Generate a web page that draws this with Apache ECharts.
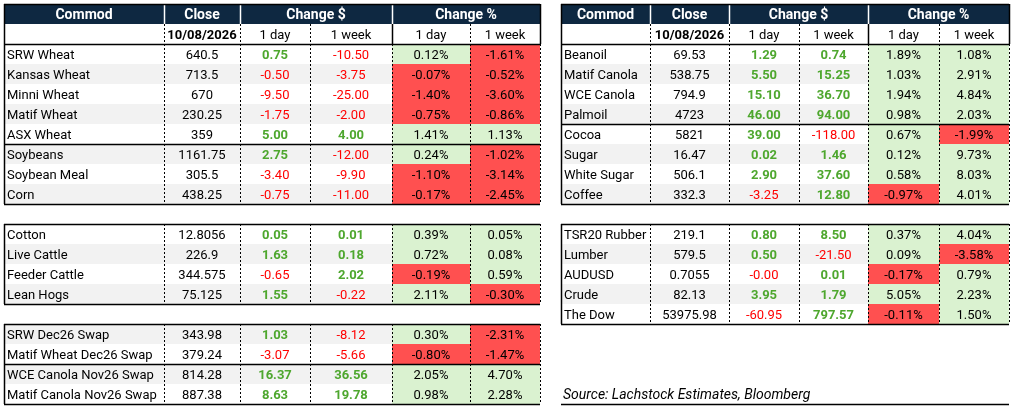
<!DOCTYPE html>
<html>
<head>
<meta charset="utf-8">
<script src="https://cdn.jsdelivr.net/npm/echarts@6/dist/echarts.min.js"></script>
<style>
  html, body { margin: 0; padding: 0; background: #fff; }
  #main { width: 1012px; height: 412px; }
</style>
</head>
<body>
<div id="main"></div>
<script>
// ---------------- data ----------------
const headTop = ['Commod', 'Close', 'Change $', 'Change %'];
const headSub = ['', '10/08/2026', '1 day', '1 week', '1 day', '1 week'];
const sourceText = 'Source: Lachstock Estimates, Bloomberg';

// grains & oilseeds (left, top)
const grainNames = ['SRW Wheat', 'Kansas Wheat', 'Minni Wheat', 'Matif Wheat', 'ASX Wheat', 'Soybeans', 'Soybean Meal', 'Corn'];
const grainClose = [640.5, 713.5, 670, 230.25, 359, 1161.75, 305.5, 438.25];
const grainDay = [0.75, -0.50, -9.50, -1.75, 5.00, 2.75, -3.40, -0.75];
const grainWeek = [-10.50, -3.75, -25.00, -2.00, 4.00, -12.00, -9.90, -11.00];
const grainDayPct = [0.12, -0.07, -1.40, -0.75, 1.41, 0.24, -1.10, -0.17];
const grainWeekPct = [-1.61, -0.52, -3.60, -0.86, 1.13, -1.02, -3.14, -2.45];

// cotton & livestock (left, middle)
const liveNames = ['Cotton', 'Live Cattle', 'Feeder Cattle', 'Lean Hogs'];
const liveClose = [12.8056, 226.9, 344.575, 75.125];
const liveDay = [0.05, 1.63, -0.65, 1.55];
const liveWeek = [0.01, 0.18, 2.02, -0.22];
const liveDayPct = [0.39, 0.72, -0.19, 2.11];
const liveWeekPct = [0.05, 0.08, 0.59, -0.30];

// swaps (left, bottom)
const swapNames = ['SRW Dec26 Swap', 'Matif Wheat Dec26 Swap', 'WCE Canola Nov26 Swap', 'Matif Canola Nov26 Swap'];
const swapClose = [343.98, 379.24, 814.28, 887.38];
const swapDay = [1.03, -3.07, 16.37, 8.63];
const swapWeek = [-8.12, -5.66, 36.56, 19.78];
const swapDayPct = [0.30, -0.80, 2.05, 0.98];
const swapWeekPct = [-2.31, -1.47, 4.70, 2.28];

// oils & softs (right, top)
const softNames = ['Beanoil', 'Matif Canola', 'WCE Canola', 'Palmoil', 'Cocoa', 'Sugar', 'White Sugar', 'Coffee'];
const softClose = [69.53, 538.75, 794.9, 4723, 5821, 16.47, 506.1, 332.3];
const softDay = [1.29, 5.50, 15.10, 46.00, 39.00, 0.02, 2.90, -3.25];
const softWeek = [0.74, 15.25, 36.70, 94.00, -118.00, 1.46, 37.60, 12.80];
const softDayPct = [1.89, 1.03, 1.94, 0.98, 0.67, 0.12, 0.58, -0.97];
const softWeekPct = [1.08, 2.91, 4.84, 2.03, -1.99, 9.73, 8.03, 4.01];

// other markets (right, middle)
const otherNames = ['TSR20 Rubber', 'Lumber', 'AUDUSD', 'Crude', 'The Dow'];
const otherClose = [219.1, 579.5, 0.7055, 82.13, 53975.98];
const otherDay = [0.80, 0.50, -0.001, 3.95, -60.95];
const otherWeek = [8.50, -21.50, 0.01, 1.79, 797.57];
const otherDayPct = [0.37, 0.09, -0.17, 5.05, -0.11];
const otherWeekPct = [4.04, -3.58, 0.79, 2.23, 1.50];

// ---------------- look ----------------
const FONT = 'Roboto, "Liberation Sans", sans-serif';
const NAVY = '#0E2841';
const STRIPE = '#F2F2F2';
const UP_TEXT = '#4EA72E';
const DOWN_TEXT = '#FF0000';
const UP_FILL = '#DAF2D0';
const DOWN_FILL = '#FF5050';
const ROW_H = 20;

const leftEdges = [0, 160, 236, 306, 388, 466, 536];
const rightEdges = [0, 89, 168, 238, 307, 378, 448];

const blocks = [
  { left: 4, top: 4, edges: leftEdges, header: true, stripe: 0, seps: [5],
    names: grainNames, close: grainClose, day: grainDay, week: grainWeek, dayPct: grainDayPct, weekPct: grainWeekPct },
  { left: 4, top: 224, edges: leftEdges, header: false, stripe: 0, seps: [],
    names: liveNames, close: liveClose, day: liveDay, week: liveWeek, dayPct: liveDayPct, weekPct: liveWeekPct },
  { left: 4, top: 324, edges: leftEdges, header: false, stripe: 1, seps: [2],
    names: swapNames, close: swapClose, day: swapDay, week: swapWeek, dayPct: swapDayPct, weekPct: swapWeekPct },
  { left: 561, top: 4, edges: rightEdges, header: true, stripe: 0, seps: [4],
    names: softNames, close: softClose, day: softDay, week: softWeek, dayPct: softDayPct, weekPct: softWeekPct },
  { left: 561, top: 224, edges: rightEdges, header: false, stripe: 0, seps: [],
    names: otherNames, close: otherClose, day: otherDay, week: otherWeek, dayPct: otherDayPct, weekPct: otherWeekPct }
];

function changeCell(v) {
  return {
    text: v.toFixed(2),
    color: v < 0 ? DOWN_TEXT : UP_TEXT,
    weight: v < 0 ? 'normal' : 'bold'
  };
}

function pctCell(v) {
  return { text: v.toFixed(2) + '%', fill: v < 0 ? DOWN_FILL : UP_FILL };
}

function buildCells(b) {
  const cells = [];
  const spans = [[0, 1], [1, 2], [2, 4], [4, 6]];
  let r0 = 0;
  if (b.header) {
    headTop.forEach((t, i) => cells.push({
      c0: spans[i][0], c1: spans[i][1], r: 0, text: t, fill: NAVY,
      color: '#fff', weight: 'bold', size: 14, align: 'center', dy: 1
    }));
    headSub.forEach((t, i) => cells.push({
      c0: i, c1: i + 1, r: 1, text: t, fill: '#fff', color: '#000',
      weight: i === 1 ? 'bold' : 'normal', size: 13, align: 'center', dy: 1.5
    }));
    r0 = 2;
  }
  b.names.forEach((name, i) => {
    const r = r0 + i;
    const bg = (i + b.stripe) % 2 === 1 ? STRIPE : '#fff';
    const d = changeCell(b.day[i]);
    const w = changeCell(b.week[i]);
    const dp = pctCell(b.dayPct[i]);
    const wp = pctCell(b.weekPct[i]);
    const base = { r: r, size: 13, align: 'center', color: '#000', weight: 'normal', fill: bg, dy: 1.5 };
    cells.push(Object.assign({}, base, { c0: 0, c1: 1, text: name, align: 'left' }));
    cells.push(Object.assign({}, base, { c0: 1, c1: 2, text: String(b.close[i]) }));
    cells.push(Object.assign({}, base, { c0: 2, c1: 3, text: d.text, color: d.color, weight: d.weight }));
    cells.push(Object.assign({}, base, { c0: 3, c1: 4, text: w.text, color: w.color, weight: w.weight }));
    cells.push(Object.assign({}, base, { c0: 4, c1: 5, text: dp.text, fill: dp.fill }));
    cells.push(Object.assign({}, base, { c0: 5, c1: 6, text: wp.text, fill: wp.fill }));
  });
  return cells;
}

function buildLines(b) {
  const E = b.edges;
  const W = E[E.length - 1];
  const nHead = b.header ? 2 : 0;
  const N = nHead + b.names.length;
  const segs = [];
  const solid = (x1, y1, x2, y2) => segs.push({ p: [x1, y1, x2, y2], dash: false, color: '#000' });
  const dashed = (x1, y1, x2, y2) => segs.push({ p: [x1, y1, x2, y2], dash: true, color: '#000' });
  if (b.header) {
    [1, 2, 4].forEach(c => segs.push({ p: [E[c], 0, E[c], 1], dash: false, color: '#ffffff' }));
    [1, 2, 3, 5].forEach(c => dashed(E[c], 1, E[c], 2));
    solid(E[4], 1, E[4], 2);
    solid(0, 2, W, 2);
    solid(W, 0, W, 2);
  }
  [1, 2, 3, 4, 5].forEach(c => dashed(E[c], nHead, E[c], N));
  b.seps.forEach(s => solid(0, nHead + s, W, nHead + s));
  dashed(W, nHead, W, N);
  solid(0, 0, W, 0);
  solid(0, N, W, N);
  solid(0, 0, 0, N);
  return segs;
}

const grids = [], xAxes = [], yAxes = [], series = [];

blocks.forEach((b, gi) => {
  const E = b.edges;
  const W = E[E.length - 1];
  const nRows = (b.header ? 2 : 0) + b.names.length;
  grids.push({ left: b.left, top: b.top, width: W, height: nRows * ROW_H });
  xAxes.push({ gridIndex: gi, type: 'value', min: 0, max: W, show: false });
  yAxes.push({ gridIndex: gi, type: 'value', min: 0, max: nRows, inverse: true, show: false });

  const cells = buildCells(b);
  series.push({
    type: 'custom',
    xAxisIndex: gi,
    yAxisIndex: gi,
    silent: true,
    clip: false,
    animation: false,
    encode: { x: [0, 2], y: 1 },
    data: cells.map(c => [E[c.c0], c.r, E[c.c1]]),
    renderItem: function (params, api) {
      const c = cells[params.dataIndex];
      const p0 = api.coord([api.value(0), api.value(1)]);
      const p1 = api.coord([api.value(2), api.value(1) + 1]);
      const x0 = Math.round(p0[0]), y0 = Math.round(p0[1]);
      const x1 = Math.round(p1[0]), y1 = Math.round(p1[1]);
      const tx = c.align === 'left' ? x0 + 3 : (x0 + x1) / 2;
      return {
        type: 'group',
        children: [
          { type: 'rect', shape: { x: x0, y: y0, width: x1 - x0, height: y1 - y0 }, style: { fill: c.fill } },
          { type: 'text', style: {
              text: c.text, x: tx, y: (y0 + y1) / 2 + c.dy,
              fill: c.color, fontSize: c.size, fontWeight: c.weight, fontFamily: FONT,
              align: c.align, verticalAlign: 'middle'
          } }
        ]
      };
    },
    z: 2
  });

  const segs = buildLines(b);
  series.push({
    type: 'custom',
    xAxisIndex: gi,
    yAxisIndex: gi,
    silent: true,
    clip: false,
    animation: false,
    encode: { x: [0, 2], y: [1, 3] },
    data: segs.map(s => s.p),
    renderItem: function (params, api) {
      const s = segs[params.dataIndex];
      const a = api.coord([api.value(0), api.value(1)]);
      const c = api.coord([api.value(2), api.value(3)]);
      let x1 = Math.round(a[0]), y1 = Math.round(a[1]), x2 = Math.round(c[0]), y2 = Math.round(c[1]);
      if (x1 === x2) { x1 += 0.5; x2 += 0.5; } else { y1 += 0.5; y2 += 0.5; }
      return {
        type: 'line',
        shape: { x1: x1, y1: y1, x2: x2, y2: y2 },
        style: { stroke: s.color, lineWidth: s.dash ? 1 : 1.5, lineDash: s.dash ? [2, 2] : null }
      };
    },
    z: 3
  });
});

const chart = echarts.init(document.getElementById('main'), null, { renderer: 'canvas' });
chart.setOption({
  backgroundColor: '#ffffff',
  animation: false,
  title: {
    text: sourceText,
    left: 561,
    top: 388,
    padding: [0, 0, 0, 2],
    textStyle: { fontFamily: FONT, fontStyle: 'italic', fontWeight: 'normal', fontSize: 14, color: '#000' }
  },
  graphic: [
    { type: 'line', shape: { x1: 561, y1: 404.5, x2: 1009, y2: 404.5 }, style: { stroke: '#000', lineWidth: 1.5 } }
  ],
  grid: grids,
  xAxis: xAxes,
  yAxis: yAxes,
  series: series
});
</script>
</body>
</html>
